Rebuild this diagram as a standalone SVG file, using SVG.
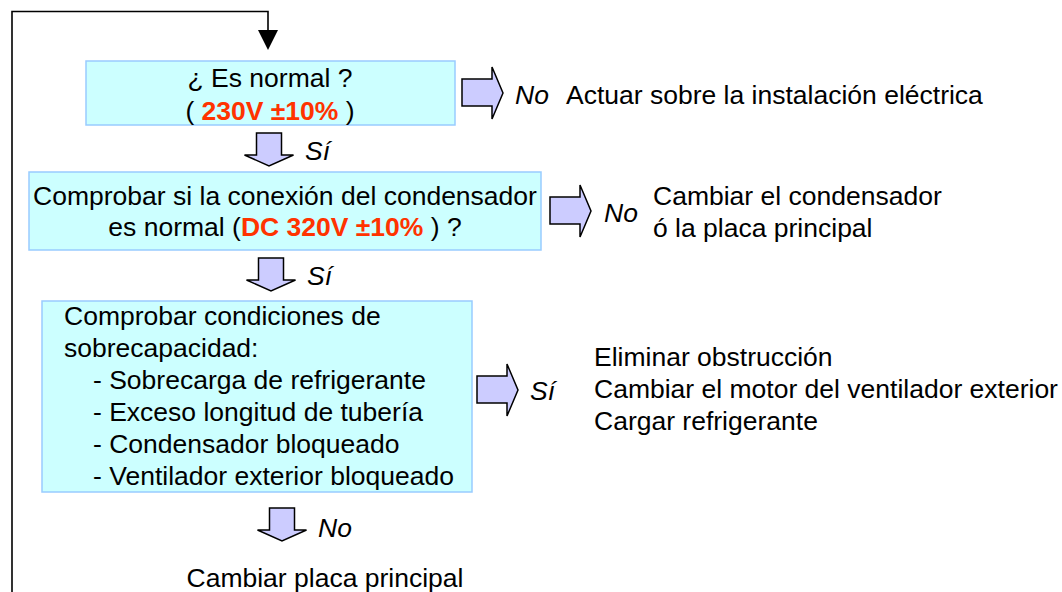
<svg xmlns="http://www.w3.org/2000/svg" width="1062" height="592" viewBox="0 0 1062 592">
<defs>
<style>
text{font-family:"Liberation Sans",Arial,sans-serif;font-size:26.5px;fill:#000}
.c{text-anchor:middle}
.i{font-style:italic}
.r{fill:#FF3300;font-weight:bold}
.box{fill:#CCFFFF;stroke:#99CCFF;stroke-width:1.5}
.ar{fill:#CCCCFF;stroke:#000;stroke-width:1.5;stroke-linejoin:miter}
.ln{fill:none;stroke:#000;stroke-width:1.6}
</style>
<path id="rarrow" d="M0,12 L30,12 L30,0 L41,26 L30,52 L30,39 L0,39 Z"/>
<path id="darrow" d="M-12.5,0 L12.5,0 L12.5,22 L24.5,22 L0,33 L-24.5,22 L-12.5,22 Z"/>
</defs>
<rect width="1062" height="592" fill="#fff"/>
<g id="connectors">
<path class="ln" d="M12,600 L12,11.5 L268,11.5 L268,32"/>
<path d="M258,30 L278,30 L268,50 Z" fill="#000"/>
<use href="#darrow" class="ar" x="269" y="133"/>
<use href="#darrow" class="ar" x="271" y="258"/>
<use href="#darrow" class="ar" x="282" y="508"/>
<use href="#rarrow" class="ar" x="462" y="67"/>
<use href="#rarrow" class="ar" x="550" y="185"/>
<use href="#rarrow" class="ar" x="477" y="364"/>
<text class="i" x="305" y="160">Sí</text>
<text class="i" x="307" y="285">Sí</text>
<text class="i" x="318" y="537">No</text>
<text class="i" x="515" y="104">No</text>
<text class="i" x="604" y="222">No</text>
<text class="i" x="530" y="400">Sí</text>
</g>
<g id="node-normal">
<rect class="box" x="86" y="61" width="369" height="64"/>
<text class="c" x="270" y="87">¿ Es normal ?</text>
<text class="c" x="270" y="119.5">( <tspan class="r">230V ±10%</tspan> )</text>
</g>
<g id="node-actuar">
<text x="566" y="104">Actuar sobre la instalación eléctrica</text>
</g>
<g id="node-condensador">
<rect class="box" x="29" y="172" width="512" height="78"/>
<text class="c" x="285" y="205">Comprobar si la conexión del condensador</text>
<text class="c" x="285" y="236">es normal (<tspan class="r">DC 320V ±10%</tspan> ) ?</text>
</g>
<g id="node-cambiar-condensador">
<text x="653" y="205">Cambiar el condensador</text>
<text x="653" y="237">ó la placa principal</text>
</g>
<g id="node-sobrecapacidad">
<rect class="box" x="42" y="301" width="430" height="191"/>
<text x="64" y="325">Comprobar condiciones de</text>
<text x="64" y="357">sobrecapacidad:</text>
<text x="93" y="389">- Sobrecarga de refrigerante</text>
<text x="93" y="421">- Exceso longitud de tubería</text>
<text x="93" y="453">- Condensador bloqueado</text>
<text x="93" y="485">- Ventilador exterior bloqueado</text>
</g>
<g id="node-eliminar">
<text x="594" y="366">Eliminar obstrucción</text>
<text x="594" y="398">Cambiar el motor del ventilador exterior</text>
<text x="594" y="430">Cargar refrigerante</text>
</g>
<g id="node-placa">
<text class="c" x="325" y="587">Cambiar placa principal</text>
</g>
</svg>
